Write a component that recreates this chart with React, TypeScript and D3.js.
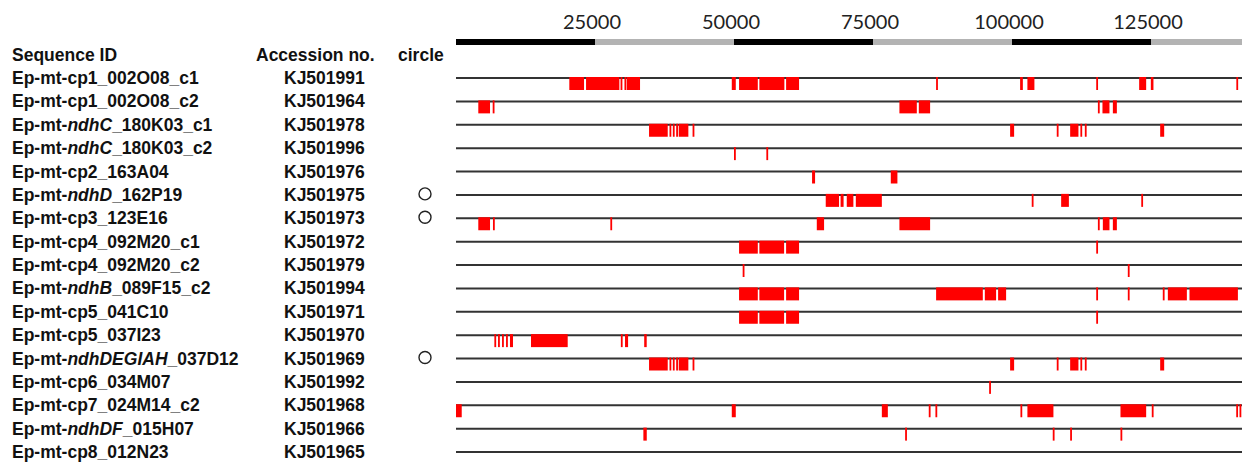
import * as d3 from 'd3'

const seqIds = [
  'Ep-mt-cp1_002O08_c1',
  'Ep-mt-cp1_002O08_c2',
  'Ep-mt-ndhC_180K03_c1',
  'Ep-mt-ndhC_180K03_c2',
  'Ep-mt-cp2_163A04',
  'Ep-mt-ndhD_162P19',
  'Ep-mt-cp3_123E16',
  'Ep-mt-cp4_092M20_c1',
  'Ep-mt-cp4_092M20_c2',
  'Ep-mt-ndhB_089F15_c2',
  'Ep-mt-cp5_041C10',
  'Ep-mt-cp5_037I23',
  'Ep-mt-ndhDEGIAH_037D12',
  'Ep-mt-cp6_034M07',
  'Ep-mt-cp7_024M14_c2',
  'Ep-mt-ndhDF_015H07',
  'Ep-mt-cp8_012N23',
]

const accessions = [
  'KJ501991', 'KJ501964', 'KJ501978', 'KJ501996', 'KJ501976', 'KJ501975',
  'KJ501973', 'KJ501972', 'KJ501979', 'KJ501994', 'KJ501971', 'KJ501970',
  'KJ501969', 'KJ501992', 'KJ501968', 'KJ501966', 'KJ501965',
]

const circular = [
  false, false, false, false, false, true, true, false, false,
  false, false, false, true, false, false, false, false,
]

const axisTicks = [25000, 50000, 75000, 100000, 125000]
const genomeLength = 141500

// matched regions per clone, in bp [start, end]
const hits: [number, number][][] = [
  [[20380, 23030], [23390, 29380], [29600, 29850], [30300, 30550], [30710, 33100],
   [49600, 50320], [50910, 54280], [54560, 59060], [59370, 61700], [86350, 86600],
   [101460, 101950], [102770, 104030], [115150, 115400], [122870, 124130],
   [124970, 125440], [140350, 140600]],
  [[4010, 6120], [6600, 6850], [79750, 82880], [83240, 85270], [115450, 115700],
   [116270, 117530], [118140, 118860]],
  [[34720, 38080], [38400, 38650], [39000, 39250], [39600, 39850], [40060, 41790],
   [42550, 42850], [99660, 100380], [108050, 108300], [110460, 111950],
   [112300, 112600], [113100, 113400], [126650, 127370]],
  [[50000, 50250], [55820, 56070]],
  [[64040, 64580], [78200, 79390]],
  [[66500, 68890], [69170, 69710], [70280, 71470], [71910, 76590],
   [103550, 103800], [108840, 110230], [123250, 123500]],
  [[4010, 6120], [6650, 6900], [27760, 28010], [64890, 66200], [79750, 85270],
   [115450, 115700], [116340, 117530], [118140, 118860]],
  [[50910, 54280], [54560, 59010], [59370, 61700], [115150, 115400]],
  [[51560, 51810], [120830, 121080]],
  [[50910, 54280], [54560, 59010], [59370, 61700], [86350, 94750], [95110, 97140],
   [97500, 98940], [115150, 115400], [120830, 121080], [127120, 127370],
   [128030, 131450], [131920, 140630]],
  [[50910, 54280], [54560, 59010], [59370, 61700], [115150, 115400]],
  [[6900, 7200], [7560, 7860], [8280, 8580], [9000, 9300], [9710, 10250],
   [13490, 20090], [29650, 29950], [30400, 30950], [33850, 34300]],
  [[34720, 38080], [38400, 38650], [39000, 39250], [39600, 39850], [40060, 41790],
   [42550, 42850], [99660, 100380], [108050, 108300], [110460, 111950],
   [112300, 112600], [113100, 113400], [126650, 127370]],
  [[95890, 96140]],
  [[0, 1030], [49600, 50320], [76590, 77670], [85030, 85280], [86230, 86480],
   [101520, 101770], [102770, 107450], [119510, 124130], [125140, 125390],
   [140330, 140580], [140920, 141170]],
  [[33700, 34310], [80780, 81030], [107330, 107580], [110460, 110710],
   [119510, 119760]],
  [],
]

const W = 1242
const H = 462
const font = '"Liberation Sans", Arial, sans-serif'
const labelSize = 17.5

const App = () => {
  const x = d3.scaleLinear().domain([0, 125000]).range([456, 1151])
  const y = d3.scalePoint<string>().domain(seqIds).range([78, 452])
  const headerY = (y(seqIds[0]) ?? 0) - y.step()

  const barSegments = d3.range(0, genomeLength, 25000).map((s, i) => ({
    start: s,
    end: Math.min(s + 25000, genomeLength),
    fill: i % 2 === 0 ? '#000' : '#b3b3b3',
  }))

  return (
    <svg
      width={W}
      height={H}
      style={{ position: 'absolute', left: 0, top: 0, background: '#fff' }}
    >
      {/* top scale bar */}
      {barSegments.map((b, i) => (
        <rect key={i} x={x(b.start)} y={39} width={x(b.end) - x(b.start)} height={6} fill={b.fill} />
      ))}
      {axisTicks.map(t => (
        <text
          key={t}
          x={x(t) - 3}
          y={29}
          textAnchor="middle"
          fontFamily="Lato, 'Open Sans', sans-serif"
          fontSize={20}
          fill="#222"
        >
          {t}
        </text>
      ))}

      {/* column headers */}
      <g fontFamily={font} fontWeight="bold" fontSize={labelSize} fill="#111">
        <text x={12} y={headerY + 6}>Sequence ID</text>
        <text x={256} y={headerY + 6}>Accession no.</text>
        <text x={398} y={headerY + 6}>circle</text>
      </g>

      {seqIds.map((id, i) => {
        const ly = y(id) ?? 0
        const parts = id.split(/(ndh[A-Z]+)/)
        return (
          <g key={id}>
            <text x={12} y={ly + 6} fontFamily={font} fontWeight="bold" fontSize={labelSize} fill="#111">
              {parts.map((p, j) => (
                <tspan key={j} fontStyle={j % 2 === 1 ? 'italic' : 'normal'}>{p}</tspan>
              ))}
            </text>
            <text x={284} y={ly + 6} fontFamily={font} fontWeight="bold" fontSize={labelSize} fill="#111">
              {accessions[i]}
            </text>
            {circular[i] && (
              <circle cx={425} cy={ly - 1} r={6} fill="none" stroke="#222" strokeWidth={1.4} />
            )}
            <line x1={x(0)} x2={x(genomeLength)} y1={ly} y2={ly} stroke="#333" strokeWidth={2} />
            {hits[i].map(([s, e], k) => (
              <rect
                key={k}
                x={x(s)}
                y={ly - 1}
                width={Math.max(x(e) - x(s), 1.8)}
                height={13}
                fill="#ff0000"
              />
            ))}
          </g>
        )
      })}
    </svg>
  )
}

export default App
